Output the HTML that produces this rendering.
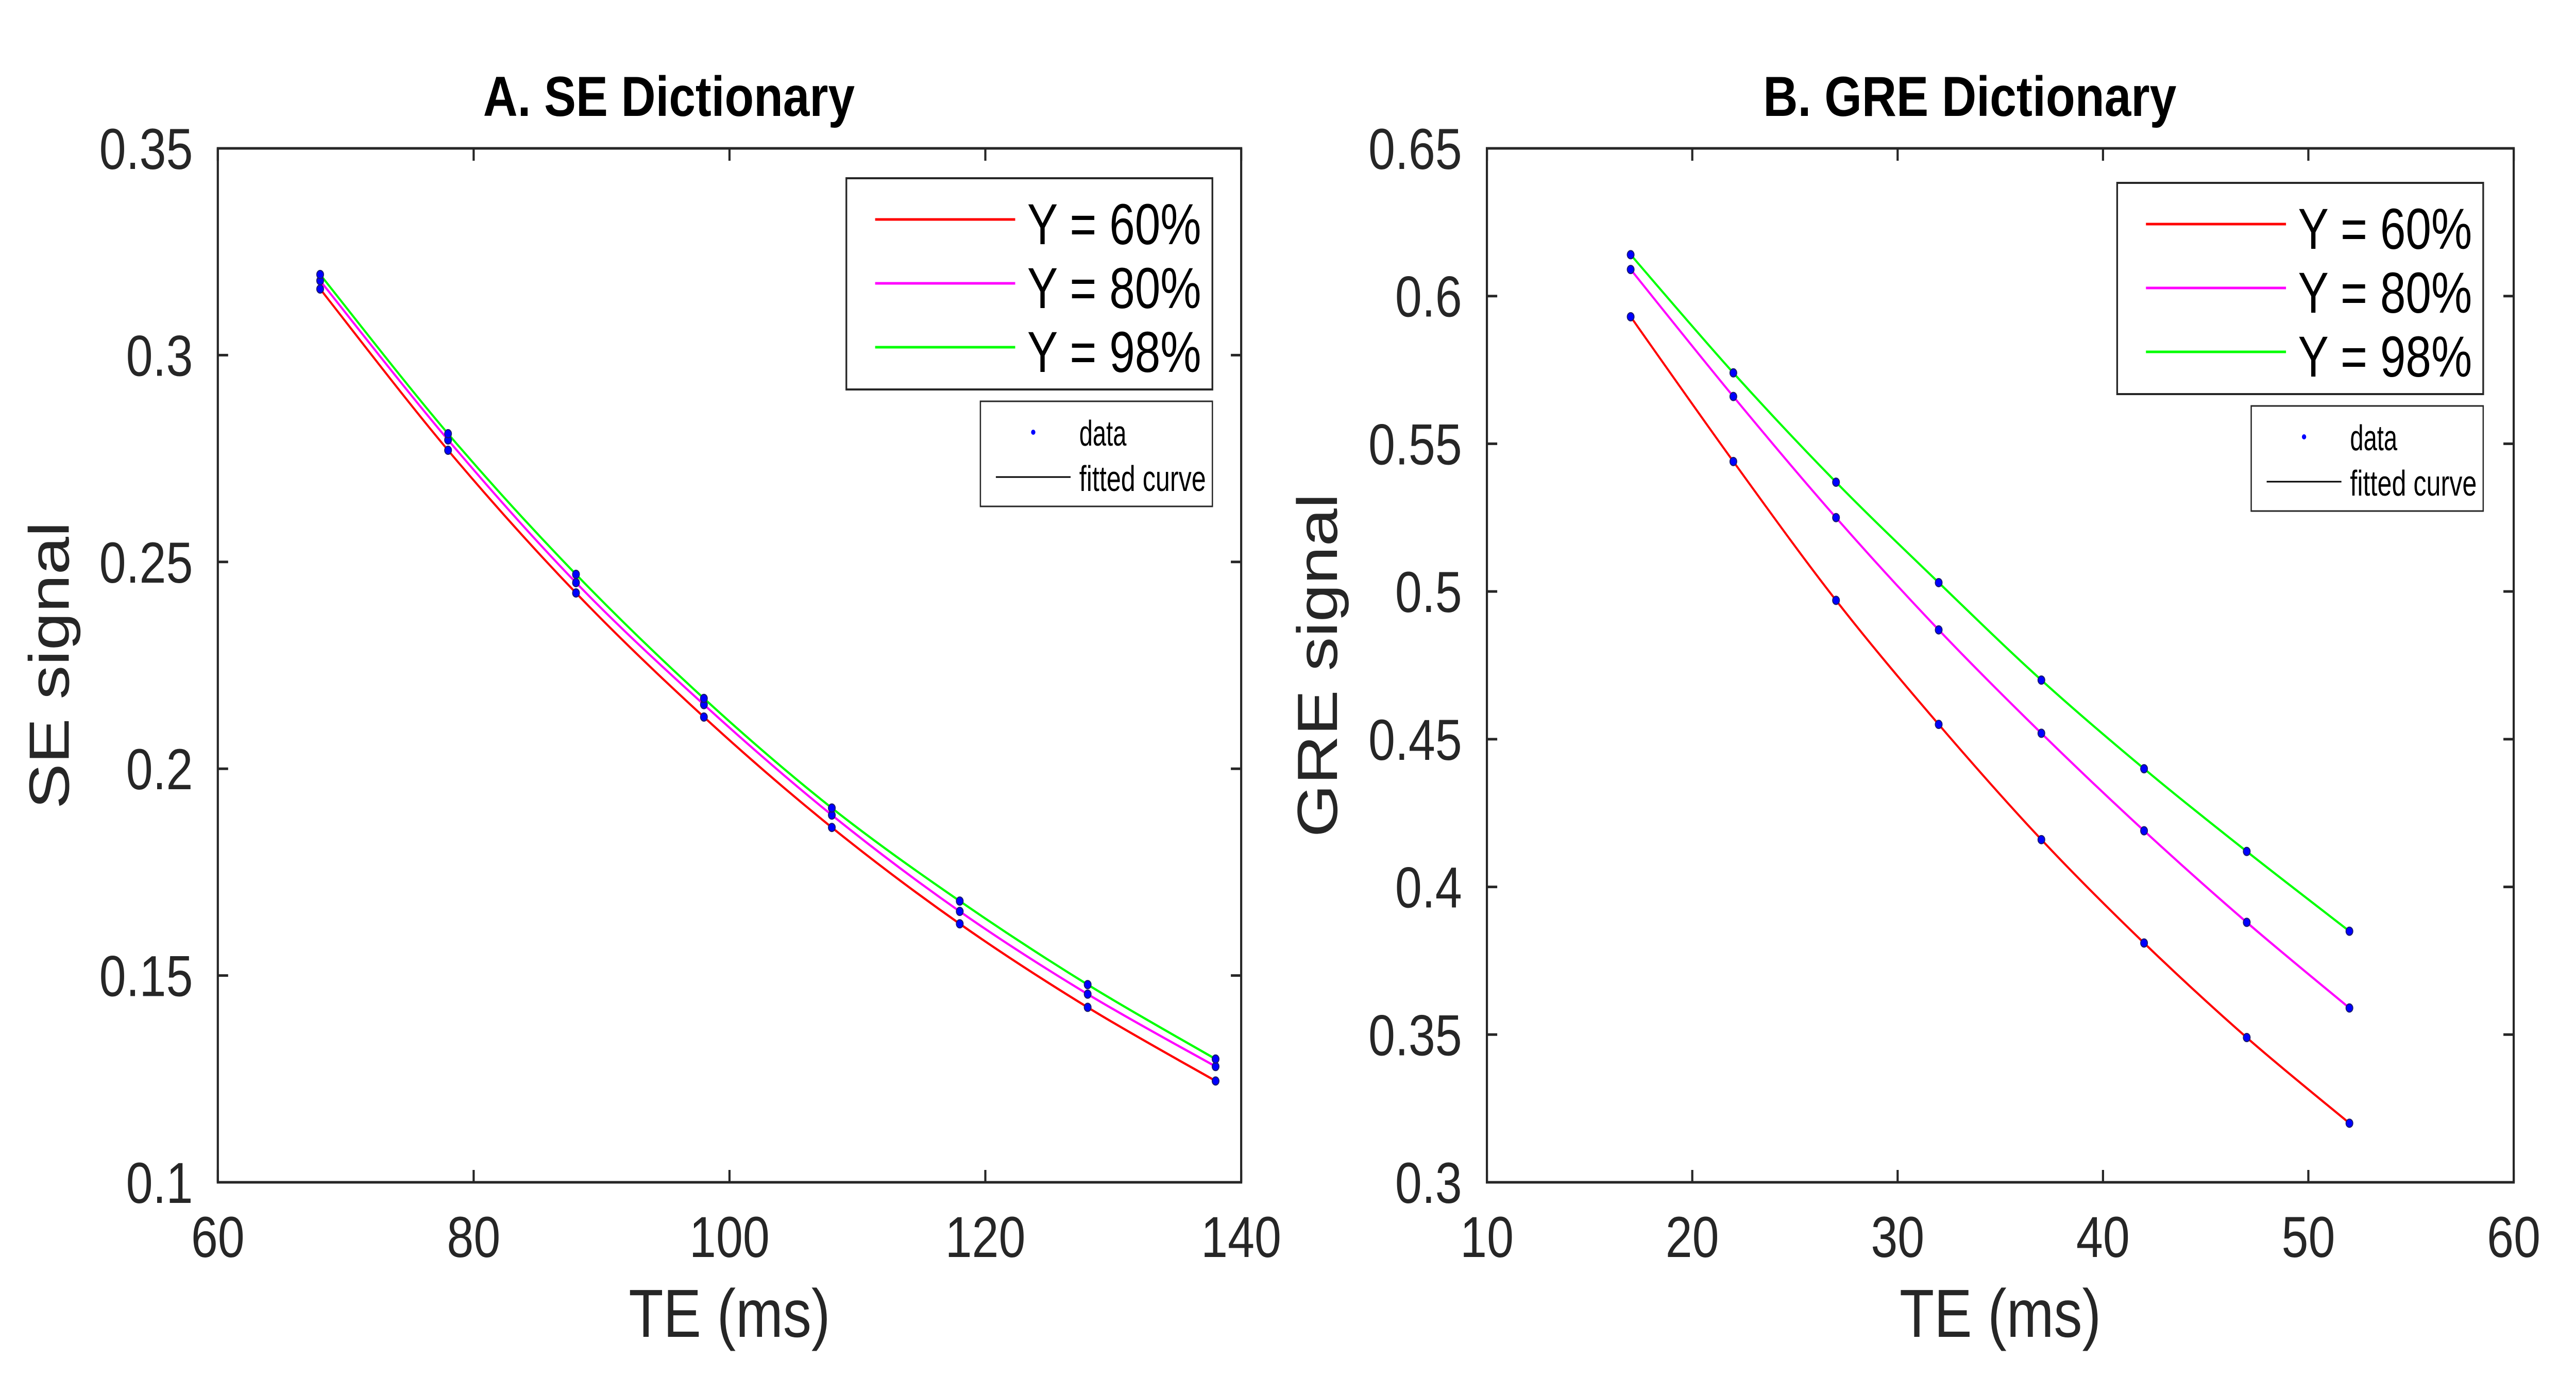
<!DOCTYPE html>
<html><head><meta charset="utf-8"><style>
html,body{margin:0;padding:0;background:#fff;width:100%;height:100%;overflow:hidden;}
svg{display:block;position:fixed;left:0;top:0;width:100vw;height:100vh;}
text{font-family:"Liberation Sans",sans-serif;fill:#262626;}
</style></head><body>
<svg id="fig" viewBox="0 0 5996 2704" preserveAspectRatio="none" xmlns="http://www.w3.org/2000/svg"></svg>
<script>
const seTE = [68, 78, 88, 98, 108, 118, 128, 138];
const seY60 = [0.316, 0.277, 0.2425, 0.2125, 0.1858, 0.1625, 0.1423, 0.1245];
const seY80 = [0.318, 0.2795, 0.245, 0.2155, 0.1888, 0.1655, 0.1455, 0.128];
const seY98 = [0.3195, 0.281, 0.247, 0.217, 0.1905, 0.168, 0.1478, 0.1298];
const seXTicks = [60, 80, 100, 120, 140];
const seYTicks = ["0.1", "0.15", "0.2", "0.25", "0.3", "0.35"];

const greTE = [17, 22, 27, 32, 37, 42, 47, 52];
const greY60 = [0.593, 0.544, 0.497, 0.455, 0.416, 0.381, 0.349, 0.320];
const greY80 = [0.609, 0.566, 0.525, 0.487, 0.452, 0.419, 0.388, 0.359];
const greY98 = [0.614, 0.574, 0.537, 0.503, 0.470, 0.440, 0.412, 0.385];
const greXTicks = [10, 20, 30, 40, 50, 60];
const greYTicks = ["0.3", "0.35", "0.4", "0.45", "0.5", "0.55", "0.6", "0.65"];

const legendLabels = ["Y = 60%", "Y = 80%", "Y = 98%"];
const NS = "http://www.w3.org/2000/svg";
const svg = document.getElementById('fig');
function mk(tag, attrs, parent, txt){
  const e = document.createElementNS(NS, tag);
  for (const k in attrs) e.setAttribute(k, attrs[k]);
  if (txt !== undefined) e.textContent = txt;
  (parent || svg).appendChild(e);
  return e;
}
function smoothPath(pts){
  let d = "M" + pts[0][0] + "," + pts[0][1];
  for (let i = 0; i < pts.length - 1; i++){
    const p0 = pts[Math.max(0, i-1)], p1 = pts[i], p2 = pts[i+1], p3 = pts[Math.min(pts.length-1, i+2)];
    const c1x = p1[0] + (p2[0]-p0[0])/6, c1y = p1[1] + (p2[1]-p0[1])/6;
    const c2x = p2[0] - (p3[0]-p1[0])/6, c2y = p2[1] - (p3[1]-p1[1])/6;
    d += " C" + c1x + "," + c1y + " " + c2x + "," + c2y + " " + p2[0] + "," + p2[1];
  }
  return d;
}
function panel(cfg){
  const g = mk('g', {});
  
  
  const L = cfg.x0, R = cfg.x1, T = 288, B = 2295;
  const xs = v => L + (v - cfg.xmin) / (cfg.xmax - cfg.xmin) * (R - L);
  const ys = v => B - (v - cfg.ymin) / (cfg.ymax - cfg.ymin) * (B - T);
  cfg.xTicks.forEach(t => {
    const x = xs(t);
    mk('line', {x1:x, y1:B, x2:x, y2:B-24, stroke:'#262626', 'stroke-width':5}, g);
    mk('line', {x1:x, y1:T, x2:x, y2:T+24, stroke:'#262626', 'stroke-width':5}, g);
    const tl = mk('text', {x:x, y:2440, 'font-size':112, 'text-anchor':'middle'}, g, String(t));
    
    
  });
  cfg.yTicks.forEach(t => {
    const y = ys(parseFloat(t));
    mk('line', {x1:L, y1:y, x2:L+24, y2:y, stroke:'#262626', 'stroke-width':5}, g);
    mk('line', {x1:R, y1:y, x2:R-24, y2:y, stroke:'#262626', 'stroke-width':5}, g);
    const tl = mk('text', {x:L-58, y:y+40, 'font-size':112, 'text-anchor':'end'}, g, t);
    
    
  });
  const box = mk('rect', {x:L, y:T, width:R-L, height:B-T, fill:'none', stroke:'#262626', 'stroke-width':5}, g);
  
  
  const cols = ['#ff0000', '#ff00ff', '#00ff00'];
  cfg.series.forEach((s, si) => {
    const pts = cfg.xData.map((v, i) => [xs(v), ys(s[i])]);
    const p = mk('path', {d:smoothPath(pts), fill:'none', stroke:cols[si], 'stroke-width':4.5}, g);
    
    
  });
  cfg.series.forEach((s, si) => {
    cfg.xData.forEach((v, i) => {
      const c = mk('circle', {cx:xs(v), cy:ys(s[i]), r:8, fill:'#0000ff', stroke:'#1a1a6a', 'stroke-width':2}, g);
      
      
    });
  });
  const ti = mk('text', {x:cfg.titleX, y:225, 'font-size':110, 'font-weight':'bold', 'text-anchor':'middle', style:'fill:#000', textLength:cfg.titleW, lengthAdjust:'spacingAndGlyphs'}, g, cfg.title);
  
  
  const xl = mk('text', {x:(L+R)/2, y:2595, 'font-size':132, 'text-anchor':'middle'}, g, 'TE (ms)');
  
  
  const yl = mk('text', {x:0, y:0, 'font-size':132, 'text-anchor':'middle', transform:'translate(' + cfg.ylabX + ',' + (T+B)/2 + ') rotate(-90)'}, g, cfg.ylab);
  
  
  const lg = mk('g', {}, g);
  
  
  const lx = cfg.legX;
  mk('rect', {x:lx, y:cfg.legY, width:852, height:410, fill:'#fff', stroke:'#262626', 'stroke-width':4}, lg);
  legendLabels.forEach((lab, i) => {
    const yy = cfg.legY + 80 + i * 124;
    const ln = mk('line', {x1:lx+67, y1:yy, x2:lx+393, y2:yy, stroke:cols[i], 'stroke-width':5}, lg);
    
    
    const tx = mk('text', {x:lx+421, y:yy+48, 'font-size':112, style:'fill:#000', textLength:405, lengthAdjust:'spacingAndGlyphs'}, lg, lab);
    
    
  });
  const lg2 = mk('g', {}, g);
  
  
  const bx = lx + 312, by = cfg.legY + 433;
  mk('rect', {x:bx, y:by, width:540, height:204, fill:'#fff', stroke:'#262626', 'stroke-width':3}, lg2);
  mk('circle', {cx:bx+123, cy:by+60, r:5, fill:'#0000ff'}, lg2);
  const t1 = mk('text', {x:bx+230, y:by+86, 'font-size':70, style:'fill:#000', textLength:110, lengthAdjust:'spacingAndGlyphs'}, lg2, 'data');
  
  
  mk('line', {x1:bx+36, y1:by+147, x2:bx+210, y2:by+147, stroke:'#000', 'stroke-width':3}, lg2);
  const t2 = mk('text', {x:bx+230, y:by+174, 'font-size':70, style:'fill:#000', textLength:295, lengthAdjust:'spacingAndGlyphs'}, lg2, 'fitted curve');
  
  
}
panel({name:'panel-a-se', x0:507, x1:2889, xmin:60, xmax:140, ymin:0.1, ymax:0.35,
  xTicks:seXTicks, yTicks:seYTicks, xData:seTE, series:[seY60, seY80, seY98],
  title:'A. SE Dictionary', titleX:1557, titleW:865, ylab:'SE signal', ylabX:160, legX:1970, legY:346});
panel({name:'panel-b-gre', x0:3461, x1:5851, xmin:10, xmax:60, ymin:0.3, ymax:0.65,
  xTicks:greXTicks, yTicks:greYTicks, xData:greTE, series:[greY60, greY80, greY98],
  title:'B. GRE Dictionary', titleX:4585, titleW:962, ylab:'GRE signal', ylabX:3112, legX:4928, legY:355});
</script>
</body></html>
